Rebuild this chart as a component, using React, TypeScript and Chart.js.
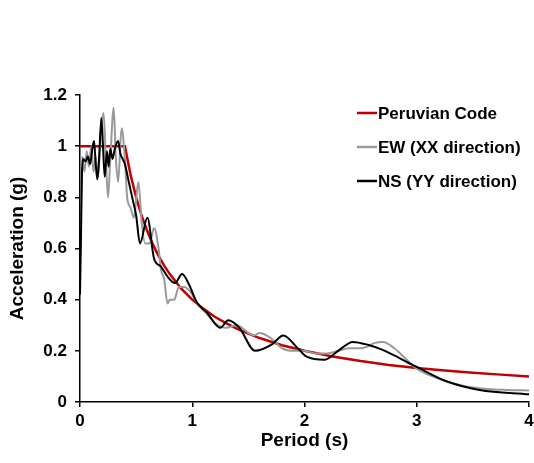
import React, { useEffect, useRef } from "react";
import { Chart, registerables } from "chart.js";

Chart.register(...registerables);

const seriesLabels = ["Peruvian Code", "EW (XX direction)", "NS (YY direction)"];
const seriesColors = ["#C00000", "#999999", "#000000"];

const codePeriods = [0, 0.4, 0.45, 0.5, 0.55, 0.6, 0.65, 0.7, 0.75, 0.8, 0.9, 1.0, 1.1, 1.2, 1.3, 1.4, 1.5, 1.6, 1.8, 2.0, 2.25, 2.5, 2.75, 3.0, 3.25, 3.5, 3.75, 4.0];
const codeValues = [1, 1, 0.889, 0.8, 0.727, 0.667, 0.615, 0.571, 0.533, 0.5, 0.444, 0.4, 0.364, 0.333, 0.308, 0.286, 0.267, 0.25, 0.222, 0.2, 0.178, 0.16, 0.145, 0.133, 0.123, 0.114, 0.107, 0.1];

const ewPeriods = [0.02, 0.04, 0.06, 0.08, 0.1, 0.12, 0.14, 0.16, 0.185, 0.21, 0.23, 0.25, 0.27, 0.3, 0.32, 0.34, 0.37, 0.4, 0.42, 0.45, 0.48, 0.52, 0.55, 0.58, 0.62, 0.66, 0.7, 0.72, 0.75, 0.78, 0.8, 0.84, 0.88, 0.93, 1.0, 1.05, 1.12, 1.2, 1.3, 1.4, 1.5, 1.55, 1.6, 1.7, 1.8, 1.9, 2.0, 2.1, 2.2, 2.3, 2.4, 2.5, 2.55, 2.62, 2.7, 2.8, 2.9, 3.0, 3.2, 3.4, 3.6, 3.8, 4.0];
const ewValues = [0.96, 0.9, 0.98, 0.92, 1.0, 0.9, 0.96, 0.88, 1.05, 1.13, 0.95, 0.8, 0.95, 1.15, 0.95, 0.86, 1.07, 0.95, 0.8, 0.76, 0.72, 0.86, 0.7, 0.62, 0.62, 0.68, 0.6, 0.52, 0.48, 0.385, 0.4, 0.4, 0.45, 0.45, 0.42, 0.38, 0.35, 0.31, 0.29, 0.3, 0.27, 0.26, 0.27, 0.25, 0.21, 0.2, 0.2, 0.19, 0.19, 0.2, 0.21, 0.21, 0.215, 0.23, 0.235, 0.21, 0.17, 0.13, 0.09, 0.065, 0.052, 0.047, 0.045];

const nsPeriods = [0, 0.008, 0.018, 0.03, 0.05, 0.07, 0.09, 0.11, 0.125, 0.14, 0.155, 0.17, 0.19, 0.205, 0.22, 0.24, 0.255, 0.27, 0.29, 0.31, 0.34, 0.36, 0.38, 0.4, 0.43, 0.47, 0.5, 0.534, 0.6, 0.66, 0.72, 0.78, 0.846, 0.91, 0.97, 1.04, 1.13, 1.25, 1.32, 1.42, 1.56, 1.71, 1.81, 1.94, 2.02, 2.18, 2.3, 2.43, 2.57, 2.69, 2.79, 3.0, 3.27, 3.56, 4.0];
const nsValues = [0.42, 0.62, 0.9, 0.95, 0.94, 0.96, 0.93, 0.99, 1.02, 0.93, 0.87, 0.95, 1.11, 1.0, 0.88, 0.98, 0.92, 0.99, 0.95, 0.99, 1.02, 0.97, 0.95, 0.93, 0.87, 0.79, 0.73, 0.62, 0.72, 0.56, 0.53, 0.49, 0.465, 0.5, 0.46, 0.39, 0.35, 0.29, 0.32, 0.29, 0.2, 0.225, 0.26, 0.21, 0.177, 0.165, 0.2, 0.235, 0.223, 0.205, 0.184, 0.137, 0.08, 0.047, 0.03];

const xTitle = "Period (s)";
const yTitle = "Acceleration (g)";

const toPoints = (xs: number[], ys: number[]) => xs.map((x, i) => ({ x, y: ys[i] }));

const FONT = "'Liberation Sans', Arial, sans-serif";

const legendPlugin = {
  id: "customLegend",
  afterDraw(chart: any) {
    const ctx = chart.ctx;
    ctx.save();
    const x0 = 357;
    const lineLen = 20;
    const ys = [113, 147, 181];
    chart.data.datasets.forEach((ds: any, i: number) => {
      ctx.strokeStyle = ds.borderColor;
      ctx.lineWidth = 2.5;
      ctx.beginPath();
      ctx.moveTo(x0, ys[i]);
      ctx.lineTo(x0 + lineLen, ys[i]);
      ctx.stroke();
      ctx.fillStyle = "#000";
      ctx.font = `bold 17px ${FONT}`;
      ctx.textBaseline = "middle";
      ctx.textAlign = "left";
      ctx.fillText(ds.label, x0 + lineLen + 1, ys[i] + 1);
    });
    ctx.restore();
  },
};

export default function App() {
  const ref = useRef<HTMLCanvasElement | null>(null);
  useEffect(() => {
    if (!ref.current) return;
    const chart = new Chart(ref.current, {
      type: "line",
      data: {
        datasets: [
          {
            label: seriesLabels[0],
            data: toPoints(codePeriods, codeValues),
            borderColor: seriesColors[0],
            borderWidth: 2.5,
            pointRadius: 0,
            tension: 0,
            order: 3,
          },
          {
            label: seriesLabels[1],
            data: toPoints(ewPeriods, ewValues),
            borderColor: seriesColors[1],
            borderWidth: 2,
            pointRadius: 0,
            cubicInterpolationMode: "monotone",
            order: 2,
          },
          {
            label: seriesLabels[2],
            data: toPoints(nsPeriods, nsValues),
            borderColor: seriesColors[2],
            borderWidth: 2,
            pointRadius: 0,
            cubicInterpolationMode: "monotone",
            order: 1,
          },
        ],
      },
      options: {
        responsive: false,
        animation: false,
        layout: { padding: { left: 0, right: 0, top: 95, bottom: 0 } },
        plugins: { legend: { display: false }, tooltip: { enabled: false } },
        scales: {
          x: {
            type: "linear",
            min: 0,
            max: 4,
            ticks: { stepSize: 1, color: "#000", font: { family: FONT, size: 17, weight: "bold" }, padding: 4 },
            grid: { drawOnChartArea: false, drawTicks: true, tickLength: 5, color: "#000", lineWidth: 1.5 },
            border: { display: true, color: "#000", width: 1.5 },
            title: { display: true, text: xTitle, color: "#000", font: { family: FONT, size: 19, weight: "bold" }, padding: { top: 2, bottom: 10.5 } },
            afterFit(scale: any) {
              scale.height = 61;
              scale.paddingRight = 5;
              scale.paddingLeft = 0;
            },
          },
          y: {
            min: 0,
            max: 1.2,
            ticks: {
              stepSize: 0.2,
              color: "#000",
              font: { family: FONT, size: 17, weight: "bold" },
              padding: 8,
              callback: (v: any) => String(Number(Number(v).toFixed(1))),
            },
            grid: { drawOnChartArea: false, drawTicks: true, tickLength: 5, color: "#000", lineWidth: 1.5 },
            border: { display: true, color: "#000", width: 1.5 },
            title: { display: true, text: yTitle, color: "#000", font: { family: FONT, size: 19, weight: "bold" }, padding: { top: 6.5, bottom: 4 } },
            afterFit(scale: any) {
              scale.width = 80;
            },
          },
        },
      },
      plugins: [legendPlugin],
    } as any);
    return () => chart.destroy();
  }, []);
  return (
    <div style={{ position: "fixed", left: 0, top: 0, width: 534, height: 463, background: "#fff" }}>
      <canvas ref={ref} width={534} height={463} />
    </div>
  );
}
